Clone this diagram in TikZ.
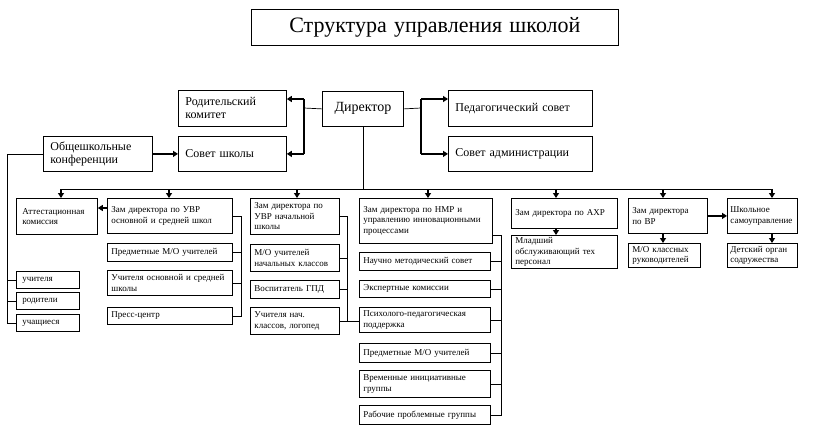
\documentclass[tikz,border=0pt]{standalone}
\usepackage{fontspec}
\setmainfont{Liberation Serif}
\usetikzlibrary{arrows.meta,calc}

\def\busY{189}
\def\leftX{7}
\def\arrY{99}

\begin{document}
\begin{tikzpicture}[x=1pt, y=-1pt,
    box/.style={draw, line width=0.8pt, anchor=north west, inner xsep=4pt, inner ysep=0pt,
      align=left, font=\fontsize{9}{10.5}\selectfont},
    big/.style={inner xsep=7pt, font=\fontsize{12}{13}\selectfont},
    dims/.code 2 args={\pgfmathsetmacro\boxW{#1-2*\pgfkeysvalueof{/pgf/inner xsep}}%
      \tikzset{text width=\boxW pt, minimum height=#2pt}},
    wire/.style={line width=0.7pt},
    thick line/.style={line width=1.3pt},
    arr/.style={line width=1.3pt, -{Triangle[width=6pt,length=5pt]}}]
  \useasboundingbox (0,0) rectangle (816,429);

  % top part
  \node[box, dims={367}{36}, align=center, font=\fontsize{22}{24}\selectfont] (title) at (251,9) {Структура управления школой};
  \node[box, big, dims={108}{36}] (rod) at (178,90) {Родительский\\комитет};
  \node[box, dims={81}{35}, align=center, font=\fontsize{14}{16}\selectfont] (dir) at (322,91) {Директор};
  \node[box, big, dims={144}{36}] (ped) at (448,90) {Педагогический совет};
  \node[box, big, dims={109}{35}] (obsh) at (43,136) {Общешкольные\\конференции};
  \node[box, big, dims={108}{35}] (sovsh) at (178,136) {Совет школы};
  \node[box, big, dims={144}{35}] (sovadm) at (448,136) {Совет администрации};

  % left columns
  \node[box, inner xsep=6pt, dims={81}{36}] (att) at (16,198) {Аттестационная\\комиссия};
  \node[box, inner xsep=6pt, dims={63}{17}] (teach) at (16,271) {учителя};
  \node[box, inner xsep=6pt, dims={63}{17}] (parents) at (16,292) {родители};
  \node[box, inner xsep=6pt, dims={63}{17}] (pupils) at (16,314) {учащиеся};
  \node[box, dims={125}{35}] (uvr) at (107,198) {Зам директора по УВР\\основной и средней школ};
  \node[box, dims={125}{18}] (mo1) at (107,243) {Предметные М/О учителей};
  \node[box, dims={125}{25}] (uchos) at (107,270) {Учителя основной и средней\\школы};
  \node[box, dims={125}{17}] (press) at (107,307) {Пресс-центр};
  \node[box, dims={89}{36}] (uvrn) at (250,198) {Зам директора по\\УВР начальной\\школы};
  \node[box, dims={89}{27}] (mon) at (250,244) {М/О учителей\\начальных классов};
  \node[box, dims={89}{18}] (gpd) at (250,280) {Воспитатель ГПД};
  \node[box, dims={89}{27}] (uchn) at (250,307) {Учителя нач.\\классов, логопед};

  % middle column
  \node[box, dims={133}{45}] (nmr) at (359,198) {Зам директора по НМР и\\управлению инновационными\\процессами};
  \node[box, dims={131}{18}] (nms) at (359,252) {Научно методический совет};
  \node[box, dims={131}{17}] (exp) at (359,280) {Экспертные комиссии};
  \node[box, dims={131}{25}] (psy) at (359,307) {Психолого-педагогическая\\поддержка};
  \node[box, dims={131}{19}] (mo2) at (359,343) {Предметные М/О учителей};
  \node[box, dims={131}{27}] (vrem) at (359,370) {Временные инициативные\\группы};
  \node[box, dims={131}{19}] (rab) at (359,405) {Рабочие проблемные группы};

  % right columns
  \node[box, dims={106}{30}] (ahr) at (511,198) {Зам директора по АХР};
  \node[box, dims={106}{33}] (mlad) at (511,235) {Младший\\обслуживающий тех\\персонал};
  \node[box, dims={79}{35}] (vr) at (628,198) {Зам директора\\по ВР};
  \node[box, dims={72}{24}] (mocl) at (628,243) {М/О классных\\руководителей};
  \node[box, inner xsep=3pt, dims={70}{35}] (shk) at (727,198) {Школьное\\самоуправление};
  \node[box, inner xsep=3pt, dims={70}{24}] (det) at (727,243) {Детский орган\\содружества};

  % director and councils
  \coordinate (dl) at (304,108);
  \coordinate (dr) at (421,108);
  \draw[wire] (dir.west) -- (dl);
  \draw[thick line] (dl |- 0,\arrY) -- (dl |- sovsh.east);
  \draw[arr] (dl |- 0,\arrY) -- (rod.east |- 0,\arrY);
  \draw[arr] (dl |- sovsh.east) -- (sovsh.east);
  \draw[wire] (dir.east) -- (dr);
  \draw[thick line] (dr |- 0,\arrY) -- (dr |- sovadm.west);
  \draw[arr] (dr |- 0,\arrY) -- (ped.west |- 0,\arrY);
  \draw[arr] (dr |- sovadm.west) -- (sovadm.west);
  \draw[arr] (obsh) -- (sovsh);
  \draw[wire] (obsh.west) -| (\leftX,0 |- pupils.west) -- (pupils.west);
  \foreach \n in {teach,parents}
    \draw[wire] (\leftX,0 |- \n.west) -- (\n.west);

  % main bus
  \draw[wire] (dir.south) -- (dir.south |- 0,\busY);
  \draw[wire] (61,\busY) -- (772,\busY);
  \foreach \n/\x in {att/61,uvr/169,uvrn/297,nmr/428,ahr/556,vr/663,shk/772}
    \draw[arr] (\x,\busY) -- (\x,0 |- \n.north);

  % columns
  \draw[arr] (uvr.west |- 0,208) -- (att.east |- 0,208);
  \draw[wire] (uvr.east) -| (241,0 |- press.east) -- (press.east);
  \foreach \n in {mo1,uchos}
    \draw[wire] (\n.east) -- (241,0 |- \n.east);
  \draw[wire] (uvrn.east) -| (347,0 |- uchn.east);
  \draw[wire] (uchn.east) -- (psy.west |- uchn.east);
  \foreach \n in {mon,gpd}
    \draw[wire] (\n.east) -- (347,0 |- \n.east);
  \draw[wire] (nmr.east |- 0,235) -| (501,0 |- rab.east) -- (rab.east);
  \foreach \n in {nms,exp,psy,mo2,vrem}
    \draw[wire] (\n.east) -- (501,0 |- \n.east);
  \draw[arr] (556,0 |- ahr.south) -- (556,0 |- mlad.north);
  \draw[arr] (663,0 |- vr.south) -- (663,0 |- mocl.north);
  \draw[arr] (772,0 |- shk.south) -- (772,0 |- det.north);
  \draw[arr] (vr.east) -- (shk.west);
\end{tikzpicture}
\end{document}
